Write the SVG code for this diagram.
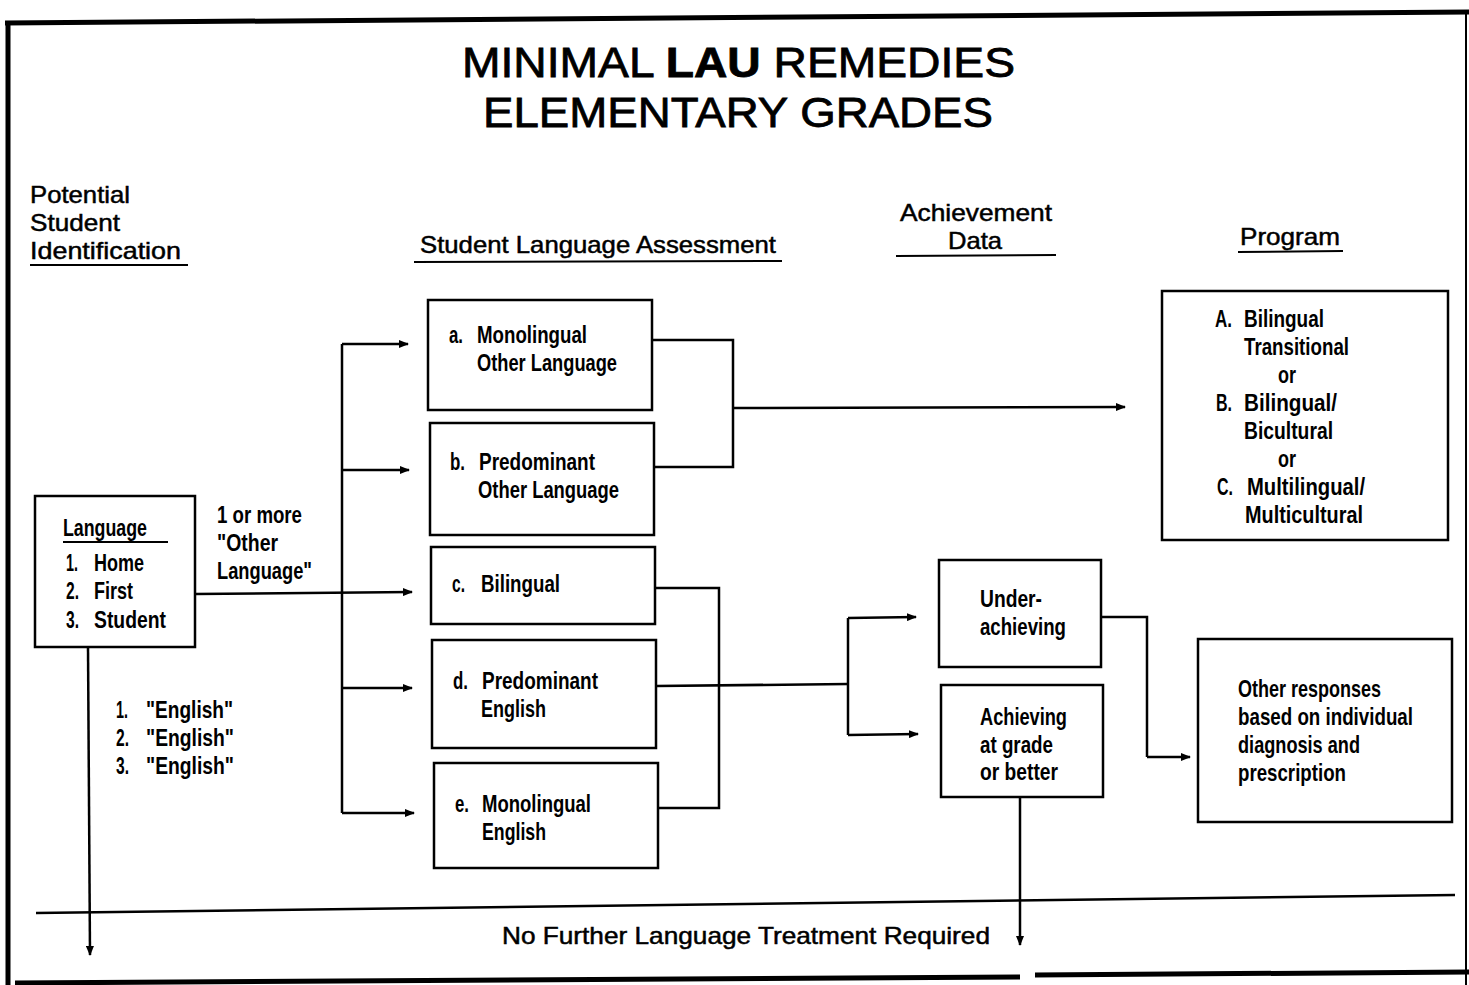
<svg xmlns="http://www.w3.org/2000/svg" width="1469" height="985" viewBox="0 0 1469 985">
<defs>
<marker id="ah" markerWidth="10" markerHeight="8" refX="9" refY="4" orient="auto" markerUnits="userSpaceOnUse">
<path d="M0,0 L10,4 L0,8 Z" fill="#000"/>
</marker>
<style>
.title{font-family:"Liberation Sans",Arial,sans-serif;font-size:43px;fill:#000;stroke:#000;stroke-width:0.8}
.hdr{font-family:"Liberation Sans",Arial,sans-serif;font-size:24px;fill:#000;stroke:#000;stroke-width:0.5}
.t{font-family:"Liberation Sans",Arial,sans-serif;font-weight:bold;font-size:24px;fill:#000}
.box{fill:none;stroke:#000;stroke-width:2.5}
.ln{fill:none;stroke:#000;stroke-width:2.5}
.ar{fill:none;stroke:#000;stroke-width:2.5;marker-end:url(#ah)}
.ul{stroke:#000;stroke-width:2}
</style>
</defs>
<rect x="0" y="0" width="1469" height="985" fill="#fff"/>
<g id="frame">
<path d="M5,23 L1469,12" stroke="#000" stroke-width="5" fill="none"/>
<path d="M8,22 L8,985" stroke="#000" stroke-width="5" fill="none"/>
<path d="M1466,14 L1466,985" stroke="#000" stroke-width="2" fill="none"/>
<path d="M15,983 L1020,977" stroke="#000" stroke-width="5" fill="none"/>
<path d="M1035,975 L1469,972" stroke="#000" stroke-width="5" fill="none"/>
</g>
<g id="title">
<text class="title" x="462" y="77" textLength="553" lengthAdjust="spacingAndGlyphs">MINIMAL <tspan font-weight="bold">LAU</tspan> REMEDIES</text>
<text class="title" x="483" y="127" textLength="510" lengthAdjust="spacingAndGlyphs">ELEMENTARY GRADES</text>
</g>
<g id="headers">
<text class="hdr" x="30" y="203" textLength="100" lengthAdjust="spacingAndGlyphs">Potential</text>
<text class="hdr" x="30" y="231" textLength="90" lengthAdjust="spacingAndGlyphs">Student</text>
<text class="hdr" x="30" y="259" textLength="151" lengthAdjust="spacingAndGlyphs">Identification</text>
<line class="ul" x1="30" y1="265" x2="188" y2="265"/>
<text class="hdr" x="420" y="253" textLength="356" lengthAdjust="spacingAndGlyphs">Student Language Assessment</text>
<line class="ul" x1="414" y1="262" x2="782" y2="261"/>
<text class="hdr" x="900" y="221" textLength="152" lengthAdjust="spacingAndGlyphs">Achievement</text>
<text class="hdr" x="948" y="249" textLength="54" lengthAdjust="spacingAndGlyphs">Data</text>
<line class="ul" x1="896" y1="256" x2="1056" y2="255"/>
<text class="hdr" x="1240" y="245" textLength="100" lengthAdjust="spacingAndGlyphs">Program</text>
<line class="ul" x1="1238" y1="252" x2="1343" y2="251"/>
</g>
<g id="connectors">
<path class="ar" d="M195,594 L412,592"/>
<path class="ln" d="M342,344 L342,813"/>
<path class="ar" d="M342,344 L408,344"/>
<path class="ar" d="M342,470 L409,470"/>
<path class="ar" d="M342,688 L412,688"/>
<path class="ar" d="M342,813 L414,813"/>
<path class="ln" d="M652,340 L733,340 L733,467 L654,467"/>
<path class="ar" d="M733,408 L1125,407"/>
<path class="ln" d="M655,588 L719,588 L719,808 L658,808"/>
<path class="ln" d="M656,686 L848,684"/>
<path class="ln" d="M848,618 L848,735"/>
<path class="ar" d="M848,618 L916,617"/>
<path class="ar" d="M848,735 L918,734"/>
<path class="ln" d="M1101,617 L1147,617 L1147,757"/>
<path class="ar" d="M1147,757 L1190,757"/>
<path class="ar" d="M88,647 L90,955"/>
<path class="ar" d="M1020,797 L1020,945"/>
<path class="ln" d="M36,913 L1455,895"/>
</g>
<g id="language">
<rect class="box" x="35" y="496" width="160" height="151"/>
<text class="t" x="63" y="536" textLength="84" lengthAdjust="spacingAndGlyphs">Language</text>
<line class="ul" x1="63" y1="542" x2="168" y2="542"/>
<text class="t" x="66" y="571" textLength="12" lengthAdjust="spacingAndGlyphs">1.</text>
<text class="t" x="94" y="571" textLength="50" lengthAdjust="spacingAndGlyphs">Home</text>
<text class="t" x="66" y="599" textLength="13" lengthAdjust="spacingAndGlyphs">2.</text>
<text class="t" x="94" y="599" textLength="39" lengthAdjust="spacingAndGlyphs">First</text>
<text class="t" x="66" y="628" textLength="13" lengthAdjust="spacingAndGlyphs">3.</text>
<text class="t" x="94" y="628" textLength="72" lengthAdjust="spacingAndGlyphs">Student</text>
</g>
<g id="other-label">
<text class="t" x="217" y="523" textLength="85" lengthAdjust="spacingAndGlyphs">1 or more</text>
<text class="t" x="217" y="551" textLength="61" lengthAdjust="spacingAndGlyphs">"Other</text>
<text class="t" x="217" y="579" textLength="95" lengthAdjust="spacingAndGlyphs">Language"</text>
</g>
<g id="english-label">
<text class="t" x="116" y="718" textLength="12" lengthAdjust="spacingAndGlyphs">1.</text>
<text class="t" x="146" y="718" textLength="87" lengthAdjust="spacingAndGlyphs">"English"</text>
<text class="t" x="116" y="746" textLength="13" lengthAdjust="spacingAndGlyphs">2.</text>
<text class="t" x="146" y="746" textLength="88" lengthAdjust="spacingAndGlyphs">"English"</text>
<text class="t" x="116" y="774" textLength="13" lengthAdjust="spacingAndGlyphs">3.</text>
<text class="t" x="146" y="774" textLength="88" lengthAdjust="spacingAndGlyphs">"English"</text>
</g>
<g id="box-a">
<rect class="box" x="428" y="300" width="224" height="110"/>
<text class="t" x="449" y="343" textLength="14" lengthAdjust="spacingAndGlyphs">a.</text>
<text class="t" x="477" y="343" textLength="110" lengthAdjust="spacingAndGlyphs">Monolingual</text>
<text class="t" x="477" y="371" textLength="140" lengthAdjust="spacingAndGlyphs">Other Language</text>
</g>
<g id="box-b">
<rect class="box" x="430" y="423" width="224" height="112"/>
<text class="t" x="450" y="470" textLength="15" lengthAdjust="spacingAndGlyphs">b.</text>
<text class="t" x="479" y="470" textLength="116" lengthAdjust="spacingAndGlyphs">Predominant</text>
<text class="t" x="478" y="498" textLength="141" lengthAdjust="spacingAndGlyphs">Other Language</text>
</g>
<g id="box-c">
<rect class="box" x="431" y="547" width="224" height="77"/>
<text class="t" x="452" y="592" textLength="13" lengthAdjust="spacingAndGlyphs">c.</text>
<text class="t" x="481" y="592" textLength="79" lengthAdjust="spacingAndGlyphs">Bilingual</text>
</g>
<g id="box-d">
<rect class="box" x="432" y="640" width="224" height="108"/>
<text class="t" x="453" y="689" textLength="15" lengthAdjust="spacingAndGlyphs">d.</text>
<text class="t" x="482" y="689" textLength="116" lengthAdjust="spacingAndGlyphs">Predominant</text>
<text class="t" x="481" y="717" textLength="65" lengthAdjust="spacingAndGlyphs">English</text>
</g>
<g id="box-e">
<rect class="box" x="434" y="763" width="224" height="105"/>
<text class="t" x="455" y="812" textLength="14" lengthAdjust="spacingAndGlyphs">e.</text>
<text class="t" x="482" y="812" textLength="109" lengthAdjust="spacingAndGlyphs">Monolingual</text>
<text class="t" x="482" y="840" textLength="64" lengthAdjust="spacingAndGlyphs">English</text>
</g>
<g id="under">
<rect class="box" x="939" y="560" width="162" height="107"/>
<text class="t" x="980" y="607" textLength="62" lengthAdjust="spacingAndGlyphs">Under-</text>
<text class="t" x="980" y="635" textLength="86" lengthAdjust="spacingAndGlyphs">achieving</text>
</g>
<g id="achieving">
<rect class="box" x="941" y="685" width="162" height="112"/>
<text class="t" x="980" y="725" textLength="87" lengthAdjust="spacingAndGlyphs">Achieving</text>
<text class="t" x="980" y="753" textLength="73" lengthAdjust="spacingAndGlyphs">at grade</text>
<text class="t" x="980" y="780" textLength="78" lengthAdjust="spacingAndGlyphs">or better</text>
</g>
<g id="program">
<rect class="box" x="1162" y="291" width="286" height="249"/>
<text class="t" x="1215" y="327" textLength="17" lengthAdjust="spacingAndGlyphs">A.</text>
<text class="t" x="1244" y="327" textLength="80" lengthAdjust="spacingAndGlyphs">Bilingual</text>
<text class="t" x="1244" y="355" textLength="105" lengthAdjust="spacingAndGlyphs">Transitional</text>
<text class="t" x="1278" y="383" textLength="18" lengthAdjust="spacingAndGlyphs">or</text>
<text class="t" x="1216" y="411" textLength="16" lengthAdjust="spacingAndGlyphs">B.</text>
<text class="t" x="1244" y="411" textLength="93" lengthAdjust="spacingAndGlyphs">Bilingual/</text>
<text class="t" x="1244" y="439" textLength="89" lengthAdjust="spacingAndGlyphs">Bicultural</text>
<text class="t" x="1278" y="467" textLength="18" lengthAdjust="spacingAndGlyphs">or</text>
<text class="t" x="1217" y="495" textLength="16" lengthAdjust="spacingAndGlyphs">C.</text>
<text class="t" x="1247" y="495" textLength="118" lengthAdjust="spacingAndGlyphs">Multilingual/</text>
<text class="t" x="1245" y="523" textLength="118" lengthAdjust="spacingAndGlyphs">Multicultural</text>
</g>
<g id="other">
<rect class="box" x="1198" y="639" width="254" height="183"/>
<text class="t" x="1238" y="697" textLength="143" lengthAdjust="spacingAndGlyphs">Other responses</text>
<text class="t" x="1238" y="725" textLength="175" lengthAdjust="spacingAndGlyphs">based on individual</text>
<text class="t" x="1238" y="753" textLength="122" lengthAdjust="spacingAndGlyphs">diagnosis and</text>
<text class="t" x="1238" y="781" textLength="108" lengthAdjust="spacingAndGlyphs">prescription</text>
</g>
<g id="footer">
<text class="hdr" x="502" y="944" textLength="488" lengthAdjust="spacingAndGlyphs">No Further Language Treatment Required</text>
</g>
</svg>
